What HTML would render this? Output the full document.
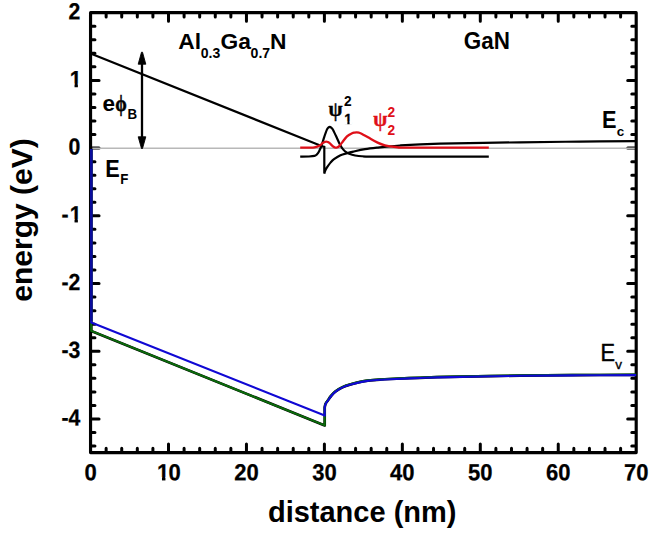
<!DOCTYPE html>
<html><head><meta charset="utf-8"><title>band diagram</title>
<style>
html,body{margin:0;padding:0;background:#fff;}
body{width:658px;height:539px;overflow:hidden;}
svg{display:block;}
text{font-family:"Liberation Sans",sans-serif;font-weight:bold;fill:#000;}
.tk{font-size:22px;stroke:#000;stroke-width:0.25px;}
.lb{font-size:23px;}
.sb{font-size:14px;}
.gr{font-family:"Liberation Serif",serif;}
.rd{fill:#df0f18;}
</style></head><body>
<svg width="658" height="539" viewBox="0 0 658 539">
<rect width="658" height="539" fill="#fff"/>

<g stroke="#000" stroke-width="3" stroke-linecap="round" fill="none">
<path d="M106.14 14.15v2.9M106.14 451.10v-2.9"/>
<path d="M121.73 14.15v2.9M121.73 451.10v-2.9"/>
<path d="M137.32 14.15v2.9M137.32 451.10v-2.9"/>
<path d="M152.91 14.15v2.9M152.91 451.10v-2.9"/>
<path d="M168.50 14.15v7.0M168.50 451.10v-7.0"/>
<path d="M184.09 14.15v2.9M184.09 451.10v-2.9"/>
<path d="M199.68 14.15v2.9M199.68 451.10v-2.9"/>
<path d="M215.27 14.15v2.9M215.27 451.10v-2.9"/>
<path d="M230.86 14.15v2.9M230.86 451.10v-2.9"/>
<path d="M246.45 14.15v7.0M246.45 451.10v-7.0"/>
<path d="M262.04 14.15v2.9M262.04 451.10v-2.9"/>
<path d="M277.63 14.15v2.9M277.63 451.10v-2.9"/>
<path d="M293.22 14.15v2.9M293.22 451.10v-2.9"/>
<path d="M308.81 14.15v2.9M308.81 451.10v-2.9"/>
<path d="M324.40 14.15v7.0M324.40 451.10v-7.0"/>
<path d="M339.99 14.15v2.9M339.99 451.10v-2.9"/>
<path d="M355.58 14.15v2.9M355.58 451.10v-2.9"/>
<path d="M371.17 14.15v2.9M371.17 451.10v-2.9"/>
<path d="M386.76 14.15v2.9M386.76 451.10v-2.9"/>
<path d="M402.35 14.15v7.0M402.35 451.10v-7.0"/>
<path d="M417.94 14.15v2.9M417.94 451.10v-2.9"/>
<path d="M433.53 14.15v2.9M433.53 451.10v-2.9"/>
<path d="M449.12 14.15v2.9M449.12 451.10v-2.9"/>
<path d="M464.71 14.15v2.9M464.71 451.10v-2.9"/>
<path d="M480.30 14.15v7.0M480.30 451.10v-7.0"/>
<path d="M495.89 14.15v2.9M495.89 451.10v-2.9"/>
<path d="M511.48 14.15v2.9M511.48 451.10v-2.9"/>
<path d="M527.07 14.15v2.9M527.07 451.10v-2.9"/>
<path d="M542.66 14.15v2.9M542.66 451.10v-2.9"/>
<path d="M558.25 14.15v7.0M558.25 451.10v-7.0"/>
<path d="M573.84 14.15v2.9M573.84 451.10v-2.9"/>
<path d="M589.43 14.15v2.9M589.43 451.10v-2.9"/>
<path d="M605.02 14.15v2.9M605.02 451.10v-2.9"/>
<path d="M620.61 14.15v2.9M620.61 451.10v-2.9"/>
<path d="M92.05 26.19h2.9M634.70 26.19h-2.9"/>
<path d="M92.05 39.74h2.9M634.70 39.74h-2.9"/>
<path d="M92.05 53.29h2.9M634.70 53.29h-2.9"/>
<path d="M92.05 66.83h2.9M634.70 66.83h-2.9"/>
<path d="M92.05 80.38h7.0M634.70 80.38h-7.0"/>
<path d="M92.05 93.92h2.9M634.70 93.92h-2.9"/>
<path d="M92.05 107.47h2.9M634.70 107.47h-2.9"/>
<path d="M92.05 121.01h2.9M634.70 121.01h-2.9"/>
<path d="M92.05 134.56h2.9M634.70 134.56h-2.9"/>
<path d="M92.05 148.10h7.0M634.70 148.10h-7.0"/>
<path d="M92.05 161.65h2.9M634.70 161.65h-2.9"/>
<path d="M92.05 175.19h2.9M634.70 175.19h-2.9"/>
<path d="M92.05 188.74h2.9M634.70 188.74h-2.9"/>
<path d="M92.05 202.28h2.9M634.70 202.28h-2.9"/>
<path d="M92.05 215.83h7.0M634.70 215.83h-7.0"/>
<path d="M92.05 229.37h2.9M634.70 229.37h-2.9"/>
<path d="M92.05 242.92h2.9M634.70 242.92h-2.9"/>
<path d="M92.05 256.46h2.9M634.70 256.46h-2.9"/>
<path d="M92.05 270.00h2.9M634.70 270.00h-2.9"/>
<path d="M92.05 283.55h7.0M634.70 283.55h-7.0"/>
<path d="M92.05 297.09h2.9M634.70 297.09h-2.9"/>
<path d="M92.05 310.64h2.9M634.70 310.64h-2.9"/>
<path d="M92.05 324.19h2.9M634.70 324.19h-2.9"/>
<path d="M92.05 337.73h2.9M634.70 337.73h-2.9"/>
<path d="M92.05 351.27h7.0M634.70 351.27h-7.0"/>
<path d="M92.05 364.82h2.9M634.70 364.82h-2.9"/>
<path d="M92.05 378.37h2.9M634.70 378.37h-2.9"/>
<path d="M92.05 391.91h2.9M634.70 391.91h-2.9"/>
<path d="M92.05 405.46h2.9M634.70 405.46h-2.9"/>
<path d="M92.05 419.00h7.0M634.70 419.00h-7.0"/>
<path d="M92.05 432.55h2.9M634.70 432.55h-2.9"/>
<path d="M92.05 446.09h2.9M634.70 446.09h-2.9"/>
</g>
<rect x="90.55" y="12.65" width="545.65" height="439.95" fill="none" stroke="#000" stroke-width="3.15" stroke-linejoin="round"/>
<path d="M92.35 148.25H634.70" stroke="#b8b8b8" stroke-width="1.4" fill="none"/>
<path d="M91.25 149.10L91.25 330.89L324.70 425.40L324.70 407.50L324.70 407.50C324.83 406.92 324.95 405.20 325.50 404.00C326.05 402.80 327.08 401.63 328.00 400.30C328.92 398.97 329.73 397.48 331.00 396.00C332.27 394.52 333.77 392.83 335.60 391.40C337.43 389.97 339.47 388.57 342.00 387.40C344.53 386.23 346.80 385.48 350.80 384.40C354.80 383.32 361.13 381.70 366.00 380.90C370.87 380.10 376.00 379.92 380.00 379.60C384.00 379.28 383.33 379.30 390.00 379.00C396.67 378.70 410.00 378.15 420.00 377.80C430.00 377.45 433.33 377.27 450.00 376.90C466.67 376.53 498.33 375.90 520.00 375.60C541.67 375.30 560.63 375.22 580.00 375.10C599.37 374.98 626.83 374.93 636.20 374.90" stroke="#000" stroke-width="2.7" fill="none" stroke-linejoin="round"/>
<path d="M91.25 149.10L91.25 330.89L324.70 425.40L324.70 407.20L324.70 407.20C324.83 406.62 324.95 404.90 325.50 403.70C326.05 402.50 327.08 401.33 328.00 400.00C328.92 398.67 329.73 397.18 331.00 395.70C332.27 394.22 333.77 392.53 335.60 391.10C337.43 389.67 339.47 388.27 342.00 387.10C344.53 385.93 346.80 385.18 350.80 384.10C354.80 383.02 361.13 381.40 366.00 380.60C370.87 379.80 376.00 379.62 380.00 379.30C384.00 378.98 383.33 379.00 390.00 378.70C396.67 378.40 410.00 377.85 420.00 377.50C430.00 377.15 433.33 376.97 450.00 376.60C466.67 376.23 498.33 375.60 520.00 375.30C541.67 375.00 560.63 374.92 580.00 374.80C599.37 374.68 626.83 374.63 636.20 374.60" stroke="#0b6b0b" stroke-width="2.1" fill="none" stroke-linejoin="round"/>
<path d="M91.25 149.10L91.25 322.49L324.70 415.60L324.70 407.70L324.70 407.70C324.83 407.12 324.95 405.40 325.50 404.20C326.05 403.00 327.08 401.83 328.00 400.50C328.92 399.17 329.73 397.68 331.00 396.20C332.27 394.72 333.77 393.03 335.60 391.60C337.43 390.17 339.47 388.77 342.00 387.60C344.53 386.43 346.80 385.68 350.80 384.60C354.80 383.52 361.13 381.90 366.00 381.10C370.87 380.30 376.00 380.12 380.00 379.80C384.00 379.48 383.33 379.50 390.00 379.20C396.67 378.90 410.00 378.35 420.00 378.00C430.00 377.65 433.33 377.47 450.00 377.10C466.67 376.73 498.33 376.10 520.00 375.80C541.67 375.50 560.63 375.42 580.00 375.30C599.37 375.18 626.83 375.13 636.20 375.10" stroke="#1008d4" stroke-width="2.1" fill="none" stroke-linejoin="round"/>
<path d="M91.35 149.10V320.99" stroke="#0b0b9c" stroke-width="2.3" fill="none"/>
<path d="M90.55 53.50L323.30 146.70L324.30 146.90L324.30 173.60L324.30 173.60C324.48 173.03 324.87 171.35 325.40 170.20C325.93 169.05 326.62 168.00 327.50 166.70C328.38 165.40 329.62 163.65 330.70 162.40C331.78 161.15 332.37 160.38 334.00 159.20C335.63 158.02 338.33 156.30 340.50 155.30C342.67 154.30 344.85 153.82 347.00 153.20C349.15 152.58 350.40 152.27 353.40 151.60C356.40 150.93 360.90 149.87 365.00 149.20C369.10 148.53 372.17 148.22 378.00 147.60C383.83 146.98 389.67 146.15 400.00 145.50C410.33 144.85 420.00 144.23 440.00 143.70C460.00 143.17 496.67 142.65 520.00 142.30C543.33 141.95 560.63 141.78 580.00 141.60C599.37 141.42 626.83 141.27 636.20 141.20" stroke="#000" stroke-width="2.2" fill="none" stroke-linejoin="miter"/>
<path d="M300.20 156.60C301.67 156.58 306.62 156.62 309.00 156.50C311.38 156.38 313.17 156.27 314.50 155.90C315.83 155.53 316.25 155.05 317.00 154.30C317.75 153.55 318.23 152.87 319.00 151.40C319.77 149.93 320.73 147.88 321.60 145.50C322.47 143.12 323.33 139.70 324.20 137.10C325.07 134.50 326.10 131.48 326.80 129.90C327.50 128.32 327.90 128.10 328.40 127.60C328.90 127.10 329.33 126.90 329.80 126.90C330.27 126.90 330.72 127.20 331.20 127.60C331.68 128.00 331.92 127.93 332.70 129.30C333.48 130.67 334.72 133.32 335.90 135.80C337.08 138.28 338.60 141.93 339.80 144.20C341.00 146.47 341.90 147.98 343.10 149.40C344.30 150.82 345.50 151.82 347.00 152.70C348.50 153.58 350.17 154.15 352.10 154.70C354.03 155.25 356.28 155.70 358.60 156.00C360.92 156.30 363.27 156.40 366.00 156.50C368.73 156.60 354.53 156.58 375.00 156.60C395.47 156.62 469.83 156.60 488.80 156.60" stroke="#000" stroke-width="2.2" fill="none"/>
<path d="M300.20 147.65C301.67 147.65 306.62 147.70 309.00 147.65C311.38 147.60 312.72 147.71 314.50 147.35C316.28 146.99 318.30 146.24 319.70 145.50C321.10 144.76 322.08 143.48 322.90 142.90C323.72 142.32 324.05 142.22 324.60 142.00C325.15 141.78 325.67 141.60 326.20 141.60C326.73 141.60 327.27 141.78 327.80 142.00C328.33 142.22 328.58 142.22 329.40 142.90C330.22 143.58 331.87 145.38 332.70 146.10C333.53 146.82 333.87 146.95 334.40 147.20C334.93 147.45 335.38 147.60 335.90 147.60C336.42 147.60 336.95 147.45 337.50 147.20C338.05 146.95 338.48 146.82 339.20 146.10C339.92 145.38 340.50 144.52 341.80 142.90C343.10 141.28 345.28 138.02 347.00 136.40C348.72 134.78 350.85 133.83 352.10 133.20C353.35 132.57 353.73 132.73 354.50 132.60C355.27 132.47 355.95 132.38 356.70 132.40C357.45 132.42 358.12 132.45 359.00 132.70C359.88 132.95 360.42 133.08 362.00 133.90C363.58 134.72 365.90 136.15 368.50 137.60C371.10 139.05 374.87 141.32 377.60 142.60C380.33 143.88 381.87 144.57 384.90 145.30C387.93 146.03 391.62 146.61 395.80 147.00C399.98 147.39 394.50 147.54 410.00 147.65C425.50 147.76 475.67 147.65 488.80 147.65" stroke="#df0f18" stroke-width="2.3" fill="none"/>
<path d="M142.0 62V139" stroke="#000" stroke-width="2.3" fill="none"/>
<path d="M141.5 52.2h1l3.3 12h-7.6z M141.5 148.5h1l3.3 -11.7h-7.6z" fill="#000" stroke="#000" stroke-width="0.9" stroke-linejoin="round"/>
<text class="tk" transform="translate(90.55 480.2) rotate(0.03) scale(1 1.055)" text-anchor="middle">0</text>
<text class="tk" transform="translate(157.07 480.20) rotate(0.03) scale(1 1.055)" stroke="#000" stroke-width="0.45">1</text>
<path d="M156.95 476.93H161.98V481.40H156.95zM165.44 476.93H169.99V481.40H165.44z" fill="#fff"/>
<text class="tk" transform="translate(168.50 480.2) rotate(0.03) scale(1 1.055)">0</text>
<text class="tk" transform="translate(246.45 480.2) rotate(0.03) scale(1 1.055)" text-anchor="middle">20</text>
<text class="tk" transform="translate(324.40 480.2) rotate(0.03) scale(1 1.055)" text-anchor="middle">30</text>
<text class="tk" transform="translate(402.35 480.2) rotate(0.03) scale(1 1.055)" text-anchor="middle">40</text>
<text class="tk" transform="translate(480.30 480.2) rotate(0.03) scale(1 1.055)" text-anchor="middle">50</text>
<text class="tk" transform="translate(558.25 480.2) rotate(0.03) scale(1 1.055)" text-anchor="middle">60</text>
<text class="tk" transform="translate(636.20 480.2) rotate(0.03) scale(1 1.055)" text-anchor="middle">70</text>
<text class="tk" transform="translate(80.3 19.15) rotate(0.03) scale(0.965 1.055)" text-anchor="end">2</text>
<text class="tk" transform="translate(69.80 86.88) rotate(0.03) scale(0.965 1.055)" stroke="#000" stroke-width="0.45">1</text>
<path d="M69.63 83.61H74.53V88.08H69.63zM77.88 83.61H82.31V88.08H77.88z" fill="#fff"/>
<text class="tk" transform="translate(80.3 154.60) rotate(0.03) scale(0.965 1.055)" text-anchor="end">0</text>
<text class="tk" transform="translate(69.80 222.33) rotate(0.03) scale(0.965 1.055)" stroke="#000" stroke-width="0.45">1</text>
<path d="M69.63 219.06H74.53V223.53H69.63zM77.88 219.06H82.31V223.53H77.88z" fill="#fff"/>
<text class="tk" transform="translate(61.43 222.33) rotate(0.03) scale(0.965 1.055)">-</text>
<text class="tk" transform="translate(80.3 290.05) rotate(0.03) scale(0.965 1.055)" text-anchor="end">-2</text>
<text class="tk" transform="translate(80.3 357.77) rotate(0.03) scale(0.965 1.055)" text-anchor="end">-3</text>
<text class="tk" transform="translate(80.3 425.50) rotate(0.03) scale(0.965 1.055)" text-anchor="end">-4</text>
<text x="362.2" y="522" font-size="29" text-anchor="middle">distance (nm)</text>
<text transform="translate(32 220) rotate(-90)" font-size="30" text-anchor="middle">energy (eV)</text>
<text transform="translate(178.2 49.1) scale(1 1)" font-size="22.8">Al</text>
<text transform="translate(200.8 57.6) scale(0.97 1.0)" font-size="14.5">0.3</text>
<text transform="translate(220.6 49.1) scale(1 1)" font-size="22.8">Ga</text>
<text transform="translate(250.6 57.6) scale(0.97 1.0)" font-size="14.5">0.7</text>
<text transform="translate(270.0 49.1) scale(1 1)" font-size="22.8">N</text>
<text transform="translate(463.8 48.6) scale(0.985 1.02)" font-size="22.8">GaN</text>
<text transform="translate(102.4 111.1) scale(1 1)" font-size="22.5">e</text>
<text class="gr" transform="translate(115.3 111.3) scale(0.84 1.04)" font-size="22" stroke="#000" stroke-width="0.5">ϕ</text>
<text transform="translate(127.5 119.1) scale(0.92 1.0)" font-size="14.5">B</text>
<text transform="translate(105.3 176.6) scale(0.98 1.06)" font-size="22.2">E</text>
<text transform="translate(120.3 184.3) scale(0.93 1.0)" font-size="14.3">F</text>
<text transform="translate(602.1 128.1) scale(0.98 1.06)" font-size="22.2">E</text>
<text transform="translate(616.8 136.2) scale(1 1)" font-size="13.5">c</text>
<text transform="translate(600.5 360.7) scale(0.97 1.03)" font-size="22.4" style="font-weight:normal" stroke="#000" stroke-width="0.45">E</text>
<text transform="translate(615.2 368.6) scale(1 1)" font-size="13.5" style="font-weight:normal" stroke="#000" stroke-width="0.35">v</text>
<text class="gr" transform="translate(328.5 115.6) scale(0.97 1)" font-size="21" stroke="#000" stroke-width="0.4">ψ</text>
<text transform="translate(344.0 105.6) scale(0.95 1.0)" font-size="14.5">2</text>
<text transform="translate(344.3 123.8) scale(0.95 1.0)" font-size="14.5" stroke="#000" stroke-width="0.3">1</text>
<path d="M343.97 121.62H347.37V124.80H343.97zM349.56 121.62H352.78V124.80H349.56z" fill="#fff"/>
<text class="gr rd" transform="translate(373.2 126.4) scale(0.97 1)" font-size="21" stroke="#df0f18" stroke-width="0.4">ψ</text>
<text class="rd" transform="translate(387.6 117.0) scale(0.95 1.0)" font-size="14.5">2</text>
<text class="rd" transform="translate(387.6 135.2) scale(0.95 1.0)" font-size="14.5">2</text>
</svg></body></html>
